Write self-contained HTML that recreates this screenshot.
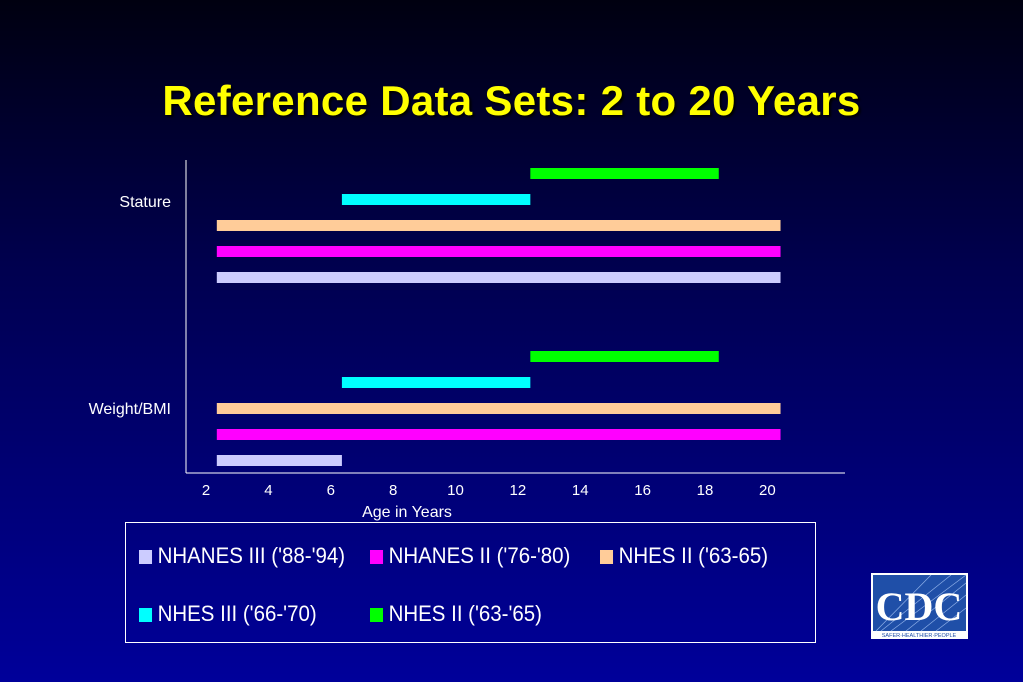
<!DOCTYPE html>
<html><head><meta charset="utf-8"><style>
body{margin:0;width:1023px;height:682px;overflow:hidden;background:linear-gradient(#000010 0%,#000050 40%,#00009a 100%);font-family:"Liberation Sans",sans-serif}
#t{position:absolute;left:0;width:1023px;top:77px;text-align:center;color:#ffff00;font-weight:bold;font-size:42px;letter-spacing:0.3px;text-shadow:2px 2px 2px #000}
.leg{position:absolute;left:125px;top:522px;width:689px;height:119px;border:1px solid #fff}
.li{position:absolute;color:#fff;font-size:22px;transform:scaleX(0.93);transform-origin:left;white-space:nowrap}
.sw{display:inline-block;width:14px;height:14px;margin-right:6px;vertical-align:-1px}
</style></head><body>
<div id="t">Reference Data Sets: 2 to 20 Years</div>
<svg width="1023" height="682" style="position:absolute;left:0;top:0">
<g id="g"></g>
</svg>
<div class="leg">
<div class="li" style="left:13px;top:20px"><span class="sw" style="background:#ccccff"></span>NHANES III ('88-'94)</div>
<div class="li" style="left:244px;top:20px"><span class="sw" style="background:#ff00ff"></span>NHANES II ('76-'80)</div>
<div class="li" style="left:474px;top:20px"><span class="sw" style="background:#ffcc99"></span>NHES II ('63-65)</div>
<div class="li" style="left:13px;top:78px"><span class="sw" style="background:#00ffff"></span>NHES III ('66-'70)</div>
<div class="li" style="left:244px;top:78px"><span class="sw" style="background:#00ff00"></span>NHES II ('63-'65)</div>
</div>
<svg width="100" height="68" style="position:absolute;left:871px;top:573px">
<rect width="97" height="66" fill="#fff"/><rect x="2" y="2" width="93" height="56" fill="#1f4fa8"/>
<g stroke="#8fb0e8" stroke-width="0.7">
<line x1="95" y1="2" x2="20" y2="58"/><line x1="95" y1="10" x2="35" y2="58"/><line x1="95" y1="22" x2="50" y2="58"/><line x1="95" y1="35" x2="65" y2="58"/><line x1="80" y1="2" x2="10" y2="58"/><line x1="60" y1="2" x2="5" y2="58"/></g>
<text x="48" y="47" text-anchor="middle" fill="#fff" font-family="Liberation Serif" font-weight="bold" font-size="40">CDC</text>
<text x="48" y="64" text-anchor="middle" fill="#1f4fa8" font-size="5.5">SAFER·HEALTHIER·PEOPLE</text>
</svg>
<script>
const ticks=[2,4,6,8,10,12,14,16,18,20];
const categories=["Stature","Weight/BMI"];
const series=["NHANES III","NHANES II","NHES II","NHES III","NHES II green"];
const colors=["#ccccff","#ff00ff","#ffcc99","#00ffff","#00ff00"];
const starts=[[2.35,2.35,2.35,6.4,12.5],[2.35,2.35,2.35,6.4,12.5]];
const ends=[[20.6,20.6,20.6,12.5,18.6],[6.4,20.6,20.6,12.5,18.6]];
const x=v=>206+(v-2)*(762-206)/18;
const catTop=[174,357];
const g=document.getElementById('g');
const ns='http://www.w3.org/2000/svg';
function mk(t,a){const e=document.createElementNS(ns,t);for(const k in a)e.setAttribute(k,a[k]);g.appendChild(e);return e;}
let e=mk('line',{x1:186,y1:160,x2:186,y2:473,stroke:'#fff','stroke-width':1});

e=mk('line',{x1:186,y1:473,x2:845,y2:473,stroke:'#fff','stroke-width':1});

ticks.forEach(t=>{const el=mk('text',{x:x(t)+(t-2)*0.3,y:495,fill:'#fff','font-size':15,'text-anchor':'middle','font-family':'Liberation Sans'});el.textContent=t;
});
e=mk('text',{x:407,y:517,fill:'#fff','font-size':16,'text-anchor':'middle','font-family':'Liberation Sans'});e.textContent='Age in Years';

const labY=[207,414];
categories.forEach((c,ci)=>{const el=mk('text',{x:171,y:labY[ci],fill:'#fff','font-size':16,'text-anchor':'end','font-family':'Liberation Sans'});el.textContent=c;

for(let s=0;s<5;s++){const row=4-s;const y=catTop[ci]+row*26-6;
const r=mk('rect',{x:x(starts[ci][s]),y:y,width:x(ends[ci][s])-x(starts[ci][s]),height:11,fill:colors[s]});
}});
</script>
</body></html>
